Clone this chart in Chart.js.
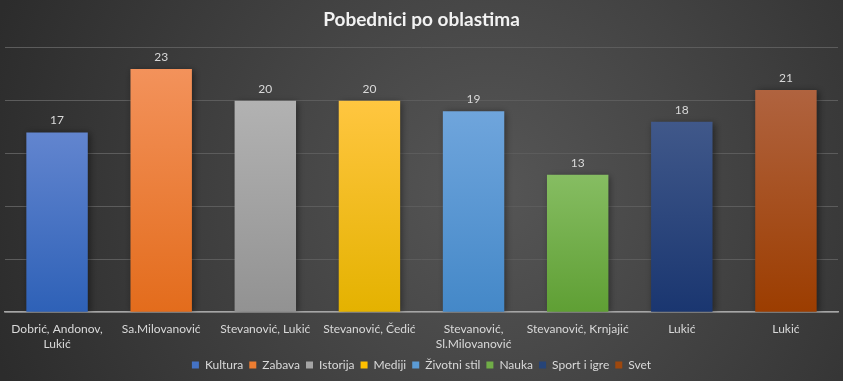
<!DOCTYPE html>
<html>
<head>
<meta charset="utf-8">
<script src="https://cdn.jsdelivr.net/npm/chart.js@4"></script>
<style>
  html, body { margin: 0; padding: 0; background: #3a3a3a; }
  #wrap { width: 843px; height: 381px; }
</style>
</head>
<body>
<div id="wrap"><canvas id="chart" width="843" height="381"></canvas></div>
<script>
const categories = [
  ["Dobrić, Andonov,", "Lukić"],
  "Sa.Milovanović",
  "Stevanović, Lukić",
  "Stevanović, Čedić",
  ["Stevanović,", "Sl.Milovanović"],
  "Stevanović, Krnjajić",
  "Lukić",
  "Lukić"
];
const seriesNames = ["Kultura", "Zabava", "Istorija", "Mediji", "Životni stil", "Nauka", "Sport i igre", "Svet"];
const values = [17, 23, 20, 20, 19, 13, 18, 21];

const legendColors = ["#4472c4", "#ed7d31", "#a5a5a5", "#ffc000", "#5b9bd5", "#70ad47", "#264478", "#9e480e"];
const topColors = ["#6285cf", "#f3925b", "#b2b2b2", "#ffc640", "#6fa5dc", "#86bd62", "#40588a", "#b0633f"];
const bottomColors = ["#2e61b7", "#e36c1c", "#929292", "#e4b200", "#4488c8", "#5f9f34", "#1a3670", "#9c3d00"];

const FONT = "Lato, 'Open Sans', sans-serif";
const TEXT = "#d9d9d9";

const bgPlugin = {
  id: "bg",
  beforeDraw(chart) {
    const { ctx, width, height } = chart;
    const g = ctx.createRadialGradient(490, 190, 0, 490, 190, 520);
    g.addColorStop(0, "#565656");
    g.addColorStop(1, "#2c2c2c");
    ctx.save();
    ctx.fillStyle = g;
    ctx.fillRect(0, 0, width, height);
    ctx.restore();
  }
};

const shadowPlugin = {
  id: "barShadow",
  beforeDatasetsDraw(chart) {
    const ctx = chart.ctx;
    ctx.save();
    ctx.shadowColor = "rgba(0,0,0,0.45)";
    ctx.shadowBlur = 7;
    ctx.shadowOffsetX = 2;
    ctx.shadowOffsetY = 1;
  },
  afterDatasetsDraw(chart) {
    chart.ctx.restore();
  }
};

const labelPlugin = {
  id: "valueLabels",
  afterDatasetsDraw(chart) {
    const { ctx } = chart;
    const meta = chart.getDatasetMeta(0);
    ctx.save();
    ctx.font = "12px " + FONT;
    ctx.fillStyle = TEXT;
    ctx.textAlign = "center";
    ctx.textBaseline = "bottom";
    meta.data.forEach((bar, i) => {
      ctx.fillText(values[i], bar.x, bar.y - 6);
    });
    ctx.restore();
  }
};

new Chart(document.getElementById("chart"), {
  type: "bar",
  data: {
    labels: categories,
    datasets: [{
      data: values,
      backgroundColor: ctx => {
        const chart = ctx.chart;
        const i = ctx.dataIndex;
        const y = chart.scales.y;
        if (!chart.chartArea || !y) return legendColors[i];
        const top = y.getPixelForValue(values[i]);
        const bottom = y.getPixelForValue(0);
        const g = chart.ctx.createLinearGradient(0, top, 0, bottom);
        g.addColorStop(0, topColors[i]);
        g.addColorStop(1, bottomColors[i]);
        return g;
      },
      borderWidth: 0,
      barPercentage: 0.59,
      categoryPercentage: 1
    }]
  },
  options: {
    responsive: false,
    animation: false,
    layout: { padding: { left: 5, right: 5, top: 0, bottom: 0 } },
    plugins: {
      title: {
        display: true,
        text: "Pobednici po oblastima",
        color: "#f2f2f2",
        font: { family: FONT, size: 19, weight: "bold" },
        padding: { top: 8, bottom: 17 }
      },
      legend: {
        position: "bottom",
        labels: {
          color: TEXT,
          font: { family: FONT, size: 12 },
          boxWidth: 7,
          boxHeight: 7,
          padding: 6,
          generateLabels: () => seriesNames.map((name, i) => ({
            text: name,
            fillStyle: legendColors[i],
            strokeStyle: legendColors[i],
            lineWidth: 0,
            fontColor: TEXT,
            hidden: false,
            index: i
          }))
        },
        onClick: () => {}
      },
      tooltip: { enabled: false }
    },
    scales: {
      x: {
        grid: { display: false },
        border: { color: "#a6a6a6", width: 1.5 },
        ticks: {
          color: TEXT,
          font: { family: FONT, size: 12 },
          padding: 2,
          maxRotation: 0,
          autoSkip: false
        }
      },
      y: {
        min: 0,
        max: 25,
        ticks: { display: false, stepSize: 5 },
        grid: { color: "#5c5c5c", drawTicks: false },
        border: { display: false }
      }
    }
  },
  plugins: [bgPlugin, shadowPlugin, labelPlugin]
});
</script>
</body>
</html>
